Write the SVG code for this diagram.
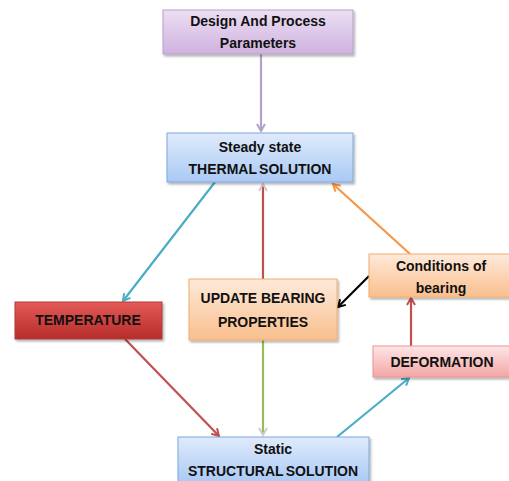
<svg xmlns="http://www.w3.org/2000/svg" width="509" height="481" viewBox="0 0 509 481">
<style>
text{font-family:"Liberation Sans",Arial,sans-serif;font-weight:bold;font-size:14px;fill:#111;text-anchor:middle}
.box{stroke-width:1}
.c{fill:none;stroke-width:2.2}
.halo{fill:none;stroke:#fff;stroke-width:6}
</style>
<defs>
<filter id="sh" x="-10%" y="-10%" width="120%" height="140%"><feDropShadow dx="1.5" dy="2" stdDeviation="1.2" flood-color="#000" flood-opacity="0.3"/></filter>
<linearGradient id="gP" x1="0" y1="0" x2="0" y2="1"><stop offset="0" stop-color="#ecdff3"/><stop offset="1" stop-color="#cfb2df"/></linearGradient>
<linearGradient id="gB" x1="0" y1="0" x2="0" y2="1"><stop offset="0" stop-color="#e0ebfb"/><stop offset="1" stop-color="#a9c9f5"/></linearGradient>
<linearGradient id="gR" x1="0" y1="0" x2="0" y2="1"><stop offset="0" stop-color="#e35a57"/><stop offset="1" stop-color="#b62c2a"/></linearGradient>
<linearGradient id="gO" x1="0" y1="0" x2="0" y2="1"><stop offset="0" stop-color="#feeadb"/><stop offset="1" stop-color="#f9bf8d"/></linearGradient>
<linearGradient id="gK" x1="0" y1="0" x2="0" y2="1"><stop offset="0" stop-color="#fde6e6"/><stop offset="1" stop-color="#f3a6a5"/></linearGradient>
<marker id="mTeal" markerWidth="10" markerHeight="10" refX="8" refY="5" orient="auto" markerUnits="userSpaceOnUse"><path d="M1,1 L8,5 L1,9" fill="none" stroke="#4bacc6" stroke-width="2"/></marker>
<marker id="mRed" markerWidth="10" markerHeight="10" refX="8" refY="5" orient="auto" markerUnits="userSpaceOnUse"><path d="M1,1 L8,5 L1,9" fill="none" stroke="#c0504d" stroke-width="2"/></marker>
<marker id="mOr" markerWidth="10" markerHeight="10" refX="8" refY="5" orient="auto" markerUnits="userSpaceOnUse"><path d="M1,1 L8,5 L1,9" fill="none" stroke="#f79646" stroke-width="2"/></marker>
<marker id="mBk" markerWidth="10" markerHeight="10" refX="8" refY="5" orient="auto" markerUnits="userSpaceOnUse"><path d="M1,1 L8,5 L1,9" fill="none" stroke="#000" stroke-width="2"/></marker>
<marker id="mGr" markerWidth="10" markerHeight="10" refX="8" refY="5" orient="auto" markerUnits="userSpaceOnUse"><path d="M1,1 L8,5 L1,9" fill="none" stroke="#ccc" stroke-width="2"/></marker>
<marker id="mPu" markerWidth="10" markerHeight="10" refX="8" refY="5" orient="auto" markerUnits="userSpaceOnUse"><path d="M1,1 L8,5 L1,9" fill="none" stroke="#b3a2c7" stroke-width="2"/></marker>
</defs>
<g id="connectors">
<line class="c" x1="261" y1="54" x2="261" y2="131" stroke="#b3a2c7" stroke-width="3" marker-end="url(#mPu)"/>
<line class="halo" x1="263" y1="279" x2="263" y2="186"/>
<line class="c" x1="263" y1="279" x2="263" y2="184" stroke="#c0504d" stroke-width="2.5" marker-end="url(#mGr)"/>
<line class="halo" x1="263" y1="340" x2="263" y2="433"/>
<line class="c" x1="263" y1="340" x2="263" y2="435" stroke="#9bbb59" stroke-width="2.5" marker-end="url(#mGr)"/>
<line class="c" x1="215" y1="182" x2="123" y2="301" stroke="#4bacc6" marker-end="url(#mTeal)"/>
<line class="c" x1="410" y1="254" x2="333" y2="184" stroke="#f79646" marker-end="url(#mOr)"/>
<line class="c" x1="369" y1="276" x2="338" y2="307" stroke="#000" stroke-width="1.8" marker-end="url(#mBk)"/>
<line class="c" x1="411" y1="346" x2="411" y2="298" stroke="#c0504d" marker-end="url(#mRed)"/>
<line class="c" x1="125" y1="339" x2="219" y2="436" stroke="#c0504d" marker-end="url(#mRed)"/>
<line class="c" x1="337" y1="437" x2="409" y2="378" stroke="#4bacc6" marker-end="url(#mTeal)"/>
</g>
<g id="design">
<rect class="box" x="163" y="10" width="190" height="44" fill="url(#gP)" stroke="#b6a0c8" filter="url(#sh)"/>
<text x="258" y="26">Design And Process</text>
<text x="258" y="48">Parameters</text>
</g>
<g id="thermal">
<rect class="box" x="167" y="133" width="186" height="49" fill="url(#gB)" stroke="#7ea6e0" filter="url(#sh)"/>
<text x="260" y="152">Steady state</text>
<text x="260" y="174" word-spacing="-1.5">THERMAL SOLUTION</text>
</g>
<g id="temperature">
<rect class="box" x="15" y="302" width="147" height="37" fill="url(#gR)" stroke="#b03a38" filter="url(#sh)"/>
<text x="88" y="325">TEMPERATURE</text>
</g>
<g id="update">
<rect class="box" x="189" y="279" width="148" height="61" fill="url(#gO)" stroke="#f4ac6c" filter="url(#sh)"/>
<text x="263" y="303">UPDATE BEARING</text>
<text x="263" y="327">PROPERTIES</text>
</g>
<g id="conditions">
<rect class="box" x="369" y="254" width="142" height="43" fill="url(#gO)" stroke="#f4ac6c" filter="url(#sh)"/>
<text x="441" y="271">Conditions of</text>
<text x="441" y="293">bearing</text>
</g>
<g id="deformation">
<rect class="box" x="373" y="346" width="138" height="31" fill="url(#gK)" stroke="#e79694" filter="url(#sh)"/>
<text x="442" y="367">DEFORMATION</text>
</g>
<g id="structural">
<rect class="box" x="178" y="437" width="191" height="46" fill="url(#gB)" stroke="#7ea6e0" filter="url(#sh)"/>
<text x="273" y="454">Static</text>
<text x="273" y="476" word-spacing="-1.5">STRUCTURAL SOLUTION</text>
</g>
</svg>
